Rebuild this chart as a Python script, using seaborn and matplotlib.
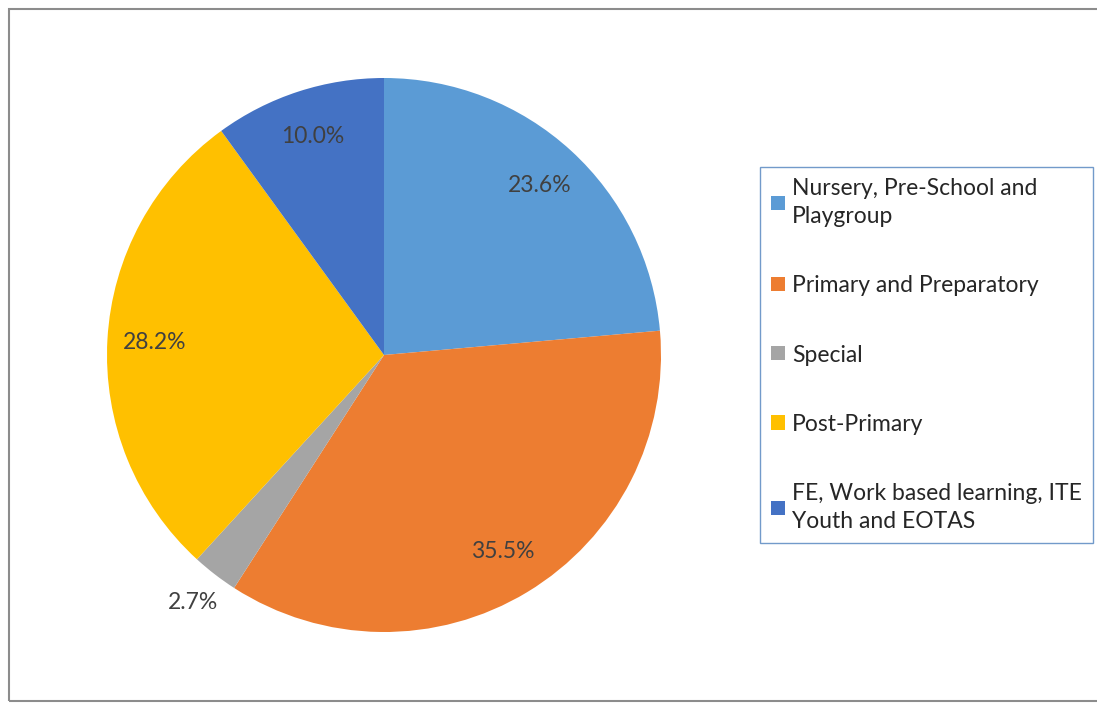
import matplotlib
matplotlib.use('Agg')
import matplotlib.pyplot as plt
from matplotlib.patches import Rectangle
import seaborn as sns
import numpy as np

# data
categories = ['Nursery, Pre-School and\nPlaygroup',
              'Primary and Preparatory',
              'Special',
              'Post-Primary',
              'FE, Work based learning, ITE\nYouth and EOTAS']
shares = [23.6, 35.5, 2.7, 28.2, 10.0]
colors = ['#5B9BD5', '#ED7D31', '#A5A5A5', '#FFC000', '#4472C4']

sns.set_theme(style='white')
plt.rcParams['font.family'] = ['Lato', 'DejaVu Sans']

W, H = 1097, 705
fig = plt.figure(figsize=(W / 100, H / 100), dpi=100)

# pie axes: centre (384, 355), radius 277 px
cx, cy, r = 384, 355, 277
ax = fig.add_axes([(cx - r) / W, (H - cy - r) / H, 2 * r / W, 2 * r / H])

wedges, texts, autotexts = ax.pie(shares, colors=colors, startangle=90,
                                  counterclock=False, autopct='%.1f%%',
                                  pctdistance=0.83,
                                  wedgeprops=dict(linewidth=0),
                                  textprops=dict(fontsize=16.5, color='#404040'))
ax.set_xlim(-1, 1)
ax.set_ylim(-1, 1)
ax.set_aspect('equal')
ax.axis('off')

# the small slice gets its label outside the pie
w = wedges[2]
mid = np.deg2rad((w.theta1 + w.theta2) / 2)
autotexts[2].set_position((1.13 * np.cos(mid), 1.13 * np.sin(mid)))

leg = fig.legend(wedges, categories, loc='upper left',
                 bbox_to_anchor=(760 / W, 1 - 167 / H),
                 fontsize=16.5, frameon=True, fancybox=False,
                 edgecolor='#4F81BD', handlelength=0.57, handleheight=0.57,
                 handletextpad=0.32, labelspacing=2.1, borderpad=0.5,
                 borderaxespad=0, labelcolor='#262626')
leg.get_frame().set_linewidth(1.0)
for t in leg.get_texts():
    t.set_linespacing(1.4)

# outer chart border
fig.add_artist(Rectangle((8.5 / W, 4 / H), 1.2, (701 - 9) / H,
                         transform=fig.transFigure, fill=False,
                         edgecolor='#8C8C8C', linewidth=1.5))

fig.savefig('out.png', dpi=100)
